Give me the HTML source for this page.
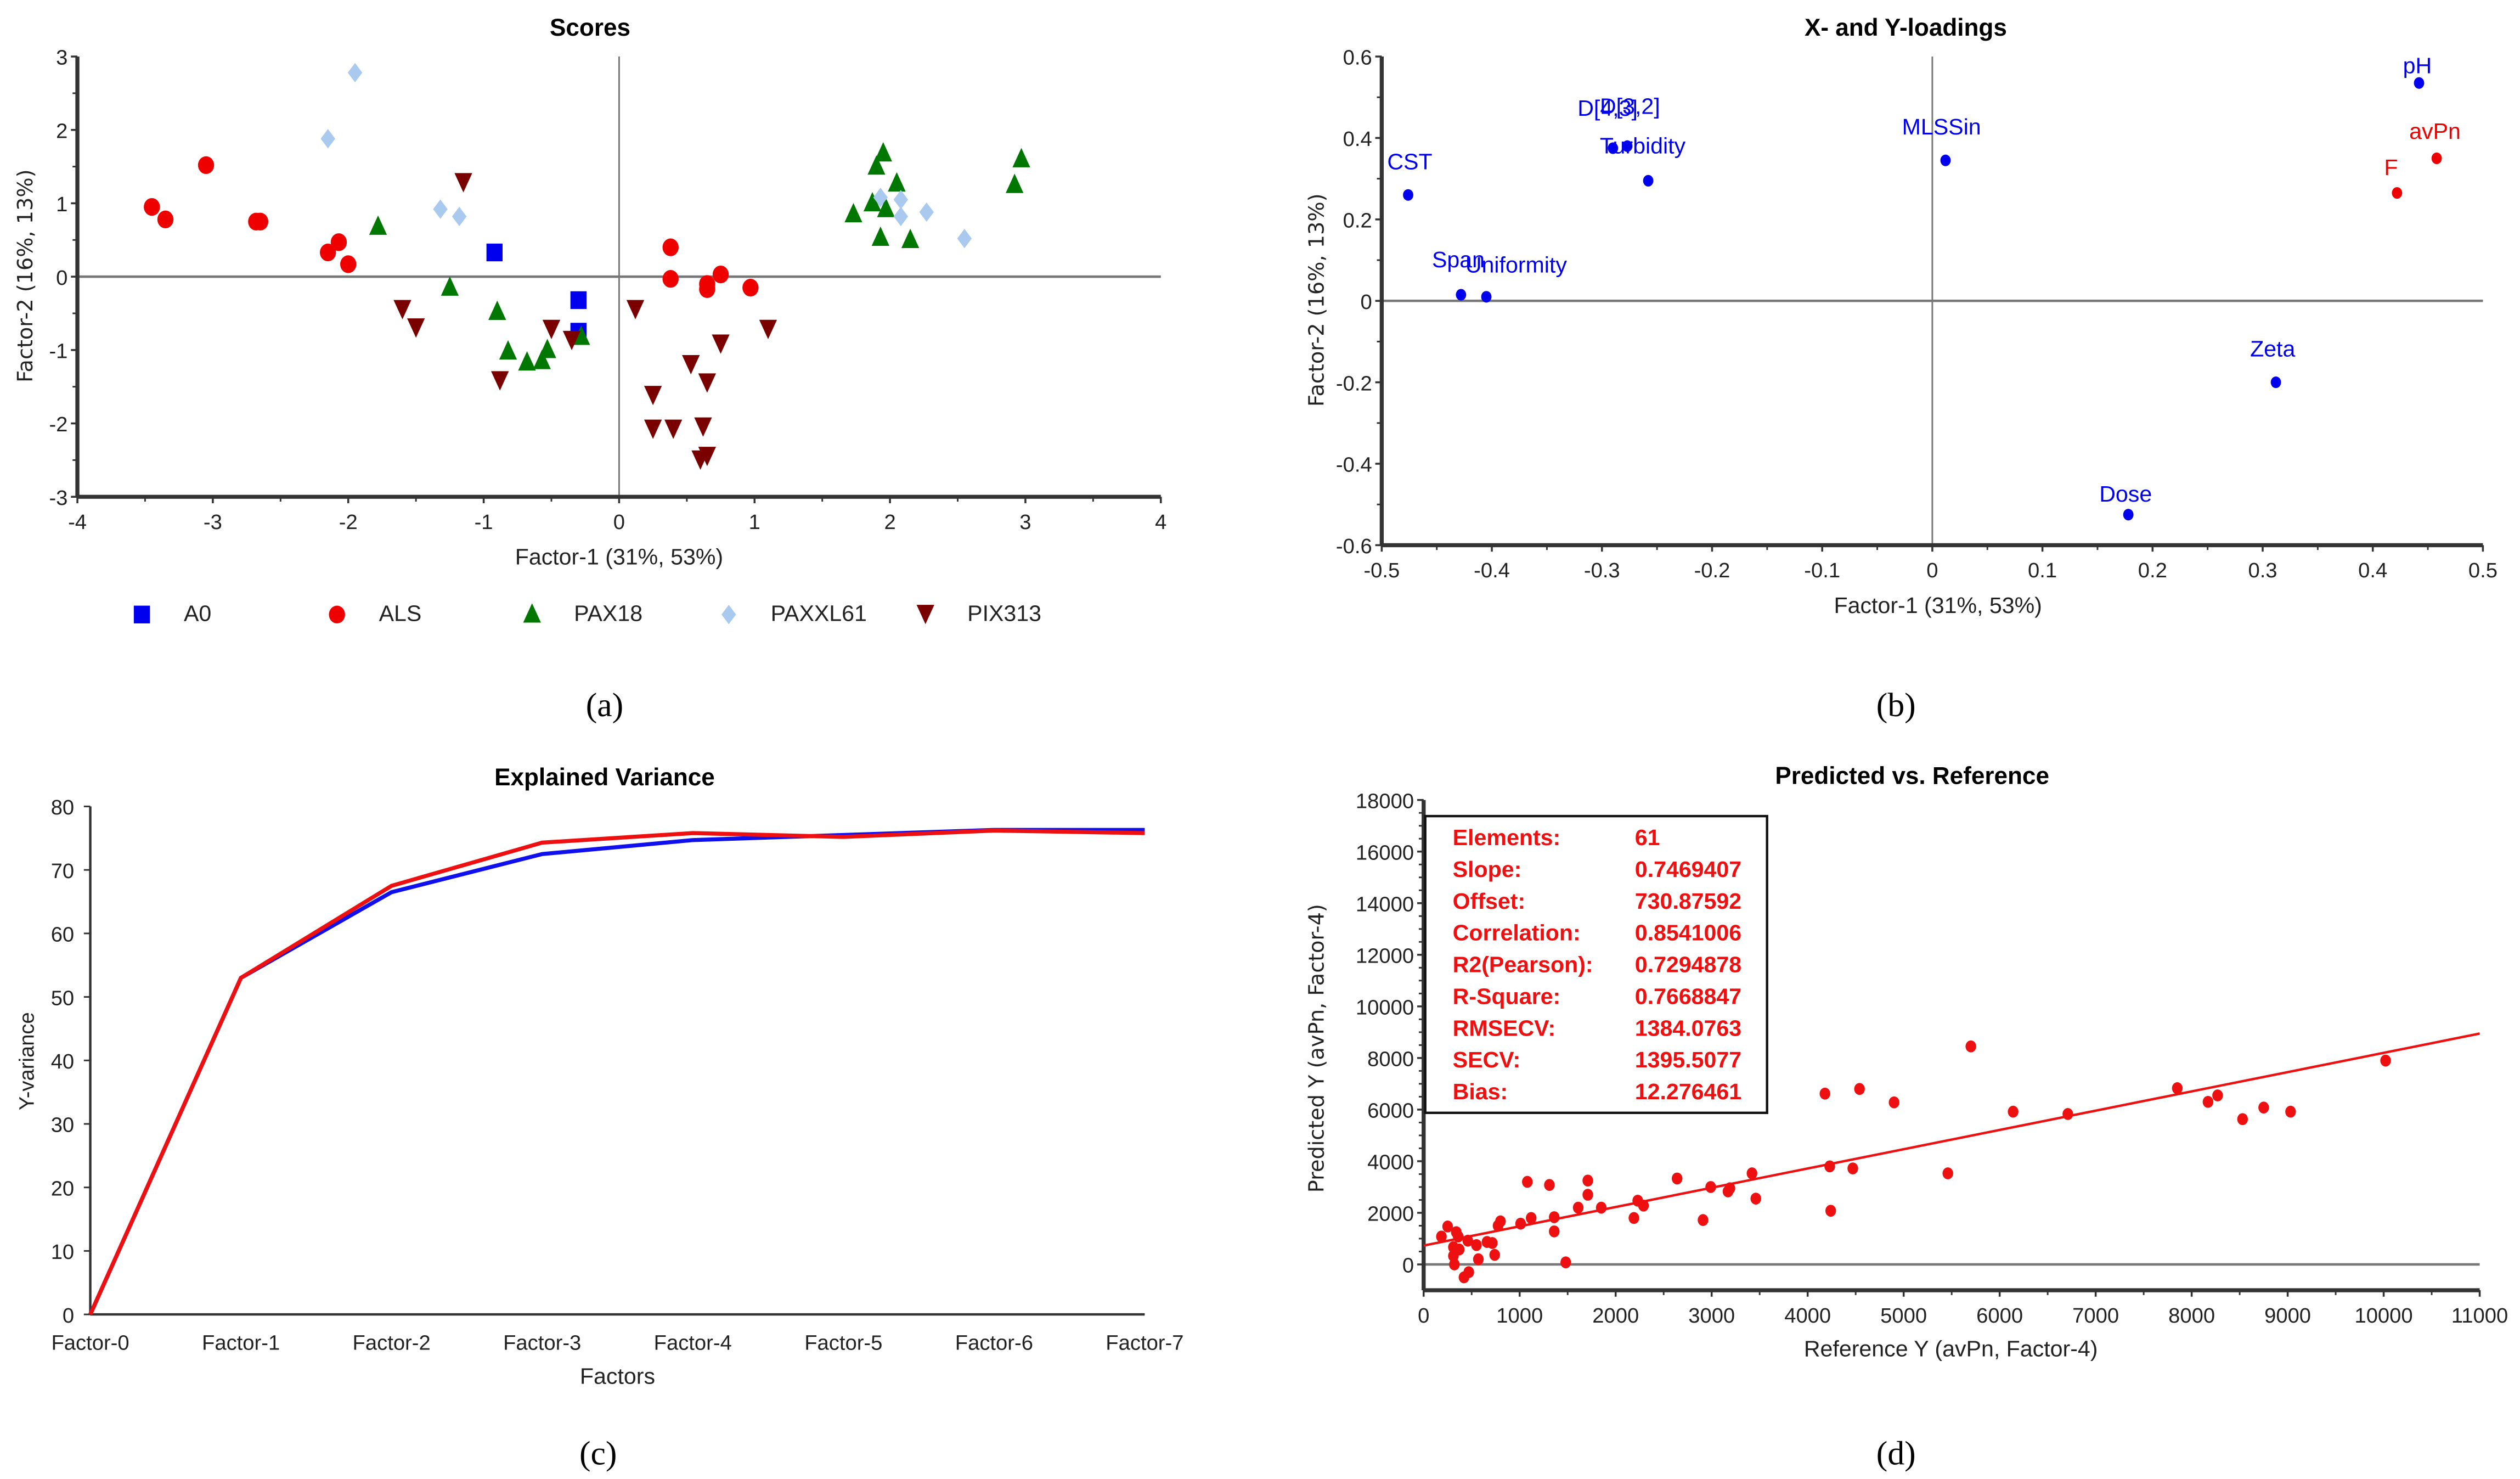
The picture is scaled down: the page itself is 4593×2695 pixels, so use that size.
<!DOCTYPE html>
<html><head><meta charset="utf-8"><style>
html,body{margin:0;padding:0;background:#fff;}
svg{display:block;font-family:"Liberation Sans",Arial,sans-serif;}
</style></head><body>
<svg id="fig" width="4593" height="2695" viewBox="0 0 1563 917" xmlns="http://www.w3.org/2000/svg">
<rect width="1563" height="917" fill="#fff"/>
<g id="root"></g>
</svg>
<script>
// ---------- Panel (a) data ----------
const a0X=[-0.92,-0.3,-0.3];
const a0Y=[0.33,-0.32,-0.75];
const alsX=[-3.45,-3.35,-3.05,-2.68,-2.65,-2.15,-2.07,-2.0,0.38,0.38,0.65,0.65,0.75,0.97];
const alsY=[0.95,0.78,1.52,0.75,0.75,0.33,0.47,0.17,0.4,-0.03,-0.1,-0.17,0.03,-0.15];
const pax18X=[-1.78,-1.25,-0.9,-0.82,-0.68,-0.57,-0.53,-0.28,1.73,1.87,1.9,1.95,1.97,2.05,1.93,2.15,2.92,2.97];
const pax18Y=[0.68,-0.15,-0.48,-1.02,-1.17,-1.15,-1.0,-0.82,0.85,1.0,1.5,1.68,0.92,1.27,0.53,0.5,1.25,1.6];
const paxxlX=[-1.95,-2.15,-1.32,-1.18,1.93,2.08,2.08,2.27,2.55];
const paxxlY=[2.78,1.88,0.92,0.82,1.08,1.05,0.82,0.88,0.52];
const pixX=[-1.15,-1.6,-1.5,-0.88,-0.5,-0.35,0.12,0.25,0.25,0.4,0.53,0.62,0.65,0.75,1.1,0.6,0.65];
const pixY=[1.28,-0.45,-0.7,-1.42,-0.72,-0.87,-0.45,-1.62,-2.08,-2.08,-1.2,-2.05,-1.45,-0.92,-0.72,-2.5,-2.45];
const aXTicks=[-4,-3,-2,-1,0,1,2,3,4];
const aYTicks=[-3,-2,-1,0,1,2,3];
// ---------- Panel (b) data ----------
const bNames=["CST","Span","Uniformity","D[4,3]","D[3,2]","Turbidity","MLSSin","pH","Zeta","Dose","F","avPn"];
const bX=[-0.476,-0.428,-0.405,-0.29,-0.277,-0.258,0.012,0.442,0.312,0.178,0.422,0.458];
const bY=[0.26,0.015,0.01,0.375,0.38,0.295,0.345,0.535,-0.2,-0.525,0.265,0.35];
const bIsY=[0,0,0,0,0,0,0,0,0,0,1,1];
const bXTicks=[-0.5,-0.4,-0.3,-0.2,-0.1,0,0.1,0.2,0.3,0.4,0.5];
const bYTicks=[-0.6,-0.4,-0.2,0,0.2,0.4,0.6];
// ---------- Panel (c) data ----------
const cCats=["Factor-0","Factor-1","Factor-2","Factor-3","Factor-4","Factor-5","Factor-6","Factor-7"];
const cBlue=[0,53,66.5,72.5,74.7,75.5,76.3,76.3];
const cRed=[0,53,67.5,74.3,75.8,75.2,76.2,75.8];
const cYTicks=[0,10,20,30,40,50,60,70,80];
// ---------- Panel (d) data ----------
const dRef=[185,250,340,360,310,310,320,370,420,470,460,550,570,660,715,740,800,775,1010,1080,1120,1310,1360,1360,1480,1610,1710,1710,1850,2190,2230,2290,2640,2910,2990,3170,3190,3420,3460,4180,4230,4240,4470,4540,4900,5460,5700,6140,6710,7850,8170,8270,8530,8750,9030,10020];
const dPred=[1080,1470,1250,1080,670,330,0,580,-500,-300,920,750,200,870,830,370,1670,1500,1580,3200,1800,3080,1830,1280,80,2200,3250,2700,2200,1800,2470,2280,3330,1720,3000,2830,2950,3530,2550,6620,3800,2080,3720,6800,6280,3530,8450,5920,5830,6830,6300,6550,5630,6080,5920,7900];
const dSlope=0.7469407, dOffset=730.87592;
const dXTicks=[0,1000,2000,3000,4000,5000,6000,7000,8000,9000,10000,11000];
const dYTicks=[0,2000,4000,6000,8000,10000,12000,14000,16000,18000];
const dStatNames=["Elements:","Slope:","Offset:","Correlation:","R2(Pearson):","R-Square:","RMSECV:","SECV:","Bias:"];
const dStatVals=["61","0.7469407","730.87592","0.8541006","0.7294878","0.7668847","1384.0763","1395.5077","12.276461"];

const NS="http://www.w3.org/2000/svg";
const root=document.getElementById('root');
function mk(tag,attrs,parent){const e=document.createElementNS(NS,tag);for(const k in attrs)e.setAttribute(k,attrs[k]);(parent||root).appendChild(e);return e;}
function txt(s,attrs,parent){const e=mk('text',attrs,parent);e.textContent=s;return e;}
function lin(d0,d1,p0,p1){return v=>p0+(v-d0)/(d1-d0)*(p1-p0);}
const AX="#333", ZL="#777";

function frame(g,x0,x1,y0,y1,xt,yt,sx,sy,xMinor,yMinor,fmtX,fmtY){
  // axes
  let e=mk('line',{x1:x0,y1:y0,x2:x0,y2:y1,stroke:AX,'stroke-width':2.5},g);
  
  e=mk('line',{x1:x0,y1:y1,x2:x1,y2:y1,stroke:AX,'stroke-width':2.5},g);
  
  for(let i=0;i<xt.length;i++){
    const X=sx(xt[i]);
    mk('line',{x1:X,y1:y1,x2:X,y2:y1+4,stroke:AX,'stroke-width':1.2},g);
    e=txt(fmtX?fmtX(xt[i]):String(xt[i]),{x:X,y:y1+20,'font-size':13,'text-anchor':'middle',fill:'#222'},g);
    
    if(i<xt.length-1&&xMinor){for(let k=1;k<xMinor;k++){const m=X+(sx(xt[i+1])-X)*k/xMinor;mk('line',{x1:m,y1:y1,x2:m,y2:y1+3,stroke:AX,'stroke-width':1},g);}}
  }
  for(let i=0;i<yt.length;i++){
    const Y=sy(yt[i]);
    mk('line',{x1:x0-4,y1:Y,x2:x0,y2:Y,stroke:AX,'stroke-width':1.2},g);
    e=txt(fmtY?fmtY(yt[i]):String(yt[i]),{x:x0-6,y:Y+5,'font-size':13,'text-anchor':'end',fill:'#222'},g);
    
    if(i<yt.length-1&&yMinor){for(let k=1;k<yMinor;k++){const m=Y+(sy(yt[i+1])-Y)*k/yMinor;mk('line',{x1:x0-3,y1:m,x2:x0,y2:m,stroke:AX,'stroke-width':1},g);}}
  }
}

// ================= Panel (a) =================
(function(){
  const g=mk('g',{});
  const x0=48,x1=720,y0=35,y1=308;
  const sx=lin(-4,4,x0,x1), sy=lin(-3,3,y1,y0);
  let e=mk('line',{x1:x0,y1:sy(0),x2:x1,y2:sy(0),stroke:ZL,'stroke-width':1.5},g);
  
  e=mk('line',{x1:sx(0),y1:y0,x2:sx(0),y2:y1,stroke:ZL,'stroke-width':1},g);
  
  frame(g,x0,x1,y0,y1,aXTicks,aYTicks,sx,sy,2,2);
  e=txt('Scores',{x:366,y:22,'font-size':15,'font-weight':'bold','text-anchor':'middle'},g);
  
  e=txt('Factor-1 (31%, 53%)',{x:384,y:350,'font-size':14,'text-anchor':'middle',fill:'#222'},g);
  
  e=txt('Factor-2 (16%, 13%)',{x:0,y:0,'font-size':13,'text-anchor':'middle',fill:'#222','font-family':'DejaVu Sans, sans-serif',transform:'translate(20,171) rotate(-90)'},g);
  
  const shapes={
    sq:(x,y,c)=>mk('rect',{x:x-5,y:y-5.5,width:10,height:11,fill:c},g),
    ci:(x,y,c)=>mk('ellipse',{cx:x,cy:y,rx:5,ry:5.5,fill:c},g),
    up:(x,y,c)=>mk('polygon',{points:`${x},${y-7} ${x-5.5},${y+5} ${x+5.5},${y+5}`,fill:c},g),
    di:(x,y,c)=>mk('polygon',{points:`${x},${y-6} ${x-4.5},${y} ${x},${y+6} ${x+4.5},${y}`,fill:c},g),
    dn:(x,y,c)=>mk('polygon',{points:`${x-5.5},${y-6} ${x+5.5},${y-6} ${x},${y+6}`,fill:c},g)
  };
  const series=[
    ['A0',a0X,a0Y,'sq','#0000ee',88],
    ['ALS',alsX,alsY,'ci','#ee0000',209],
    ['PAX18',pax18X,pax18Y,'up','#007700',330],
    ['PAXXL61',paxxlX,paxxlY,'di','#a9c9ef',452],
    ['PIX313',pixX,pixY,'dn','#7a0000',574]
  ];
  for(const s of series){
    for(let i=0;i<s[1].length;i++){
      const p=shapes[s[3]](sx(s[1][i]),sy(s[2][i]),s[4]);
      
      
    }
    const m=shapes[s[3]](s[5],381,s[4]);
    
    
    e=txt(s[0],{x:s[5]+26,y:385,'font-size':14,fill:'#222'},g);
    
  }
})();

// ================= Panel (b) =================
(function(){
  const g=mk('g',{});
  const x0=857,x1=1540,y0=35,y1=338;
  const sx=lin(-0.5,0.5,x0,x1), sy=lin(-0.6,0.6,y1,y0);
  let e=mk('line',{x1:x0,y1:sy(0),x2:x1,y2:sy(0),stroke:ZL,'stroke-width':1.5},g);
  
  e=mk('line',{x1:sx(0),y1:y0,x2:sx(0),y2:y1,stroke:ZL,'stroke-width':1},g);
  
  frame(g,x0,x1,y0,y1,bXTicks,bYTicks,sx,sy,2,2,v=>String(+v.toFixed(1)),v=>String(+v.toFixed(1)));
  e=txt('X- and Y-loadings',{x:1182,y:22,'font-size':15,'font-weight':'bold','text-anchor':'middle'},g);
  
  e=txt('Factor-1 (31%, 53%)',{x:1202,y:380,'font-size':14,'text-anchor':'middle',fill:'#222'},g);
  
  e=txt('Factor-2 (16%, 13%)',{x:0,y:0,'font-size':13,'text-anchor':'middle',fill:'#222','font-family':'DejaVu Sans, sans-serif',transform:'translate(821,186) rotate(-90)'},g);
  
  // label offsets (presentation only)
  const off={CST:[-13,-16,'start'],Span:[-18,-17,'start'],Uniformity:[-13,-15,'start'],'D[4,3]':[-22,-20,'start'],'D[3,2]':[-17,-20,'start'],Turbidity:[-30,-17,'start'],MLSSin:[-27,-16,'start'],pH:[-10,-6,'start'],Zeta:[-16,-16,'start'],Dose:[-18,-8,'start'],F:[-8,-11,'start'],avPn:[-17,-12,'start']};
  for(let i=0;i<bNames.length;i++){
    const c=bIsY[i]?'#ee0000':'#0000ee';
    const X=sx(bX[i]),Y=sy(bY[i]);
    const p=mk('ellipse',{cx:X,cy:Y,rx:3.2,ry:3.6,fill:c},g);
    
    
    const o=off[bNames[i]];
    e=txt(bNames[i],{x:X+o[0],y:Y+o[1],'font-size':14,fill:c},g);
    
  }
})();

// ================= Panel (c) =================
(function(){
  const g=mk('g',{});
  const x0=56,x1=710,y0=500,y1=815;
  const sx=i=>x0+i*(x1-x0)/(cCats.length-1), sy=lin(0,80,y1,y0);
  let e=mk('line',{x1:x0,y1:y0,x2:x0,y2:y1,stroke:AX,'stroke-width':1.5},g);
  
  e=mk('line',{x1:x0,y1:y1,x2:x1,y2:y1,stroke:AX,'stroke-width':1.5},g);
  
  for(let i=0;i<cYTicks.length;i++){
    const Y=sy(cYTicks[i]);
    mk('line',{x1:x0-4,y1:Y,x2:x0,y2:Y,stroke:AX,'stroke-width':1},g);
    e=txt(String(cYTicks[i]),{x:x0-10,y:Y+5,'font-size':13,'text-anchor':'end',fill:'#222'},g);
    
  }
  for(let i=0;i<cCats.length;i++){
    e=txt(cCats[i],{x:sx(i),y:y1+22,'font-size':13,'text-anchor':'middle',fill:'#222'},g);
    
  }
  e=txt('Explained Variance',{x:375,y:487,'font-size':15,'font-weight':'bold','text-anchor':'middle'},g);
  
  e=txt('Factors',{x:383,y:858,'font-size':14,'text-anchor':'middle',fill:'#222'},g);
  
  e=txt('Y-variance',{x:0,y:0,'font-size':13,'text-anchor':'middle',fill:'#222',transform:'translate(21,658) rotate(-90)'},g);
  
  const pb=cBlue.map((v,i)=>sx(i)+','+sy(v)).join(' ');
  e=mk('polyline',{points:pb,fill:'none',stroke:'#1010ee','stroke-width':2.5},g);
  
  const pr=cRed.map((v,i)=>sx(i)+','+sy(v)).join(' ');
  e=mk('polyline',{points:pr,fill:'none',stroke:'#ee1010','stroke-width':2.5},g);
  
})();

// ================= Panel (d) =================
(function(){
  const g=mk('g',{});
  const x0=883,x1=1538,y0=496,y1=800;
  const sx=lin(0,11000,x0,x1), sy=lin(0,18000,784,496);
  let e=mk('line',{x1:x0,y1:sy(0),x2:x1,y2:sy(0),stroke:ZL,'stroke-width':1.5},g);
  
  frame(g,x0,x1,y0,y1,dXTicks,dYTicks,sx,sy,2,4);
  e=txt('Predicted vs. Reference',{x:1186,y:486,'font-size':15,'font-weight':'bold','text-anchor':'middle'},g);
  
  e=txt('Reference Y (avPn, Factor-4)',{x:1210,y:841,'font-size':14,'text-anchor':'middle',fill:'#222'},g);
  
  e=txt('Predicted Y (avPn, Factor-4)',{x:0,y:0,'font-size':13,'text-anchor':'middle',fill:'#222','font-family':'DejaVu Sans, sans-serif',transform:'translate(821,650) rotate(-90)'},g);
  
  e=mk('line',{x1:sx(0),y1:sy(dOffset),x2:sx(11000),y2:sy(dSlope*11000+dOffset),stroke:'#ee1010','stroke-width':1.5},g);
  
  for(let i=0;i<dRef.length;i++){
    const p=mk('ellipse',{cx:sx(dRef[i]),cy:sy(dPred[i]),rx:3.3,ry:3.7,fill:'#ee1010'},g);
    
    
  }
  e=mk('rect',{x:884,y:506,width:212,height:184,fill:'#fff',stroke:'#111','stroke-width':1.5},g);
  
  for(let i=0;i<dStatNames.length;i++){
    const Y=524+i*19.7;
    e=txt(dStatNames[i],{x:901,y:Y,'font-size':14,'font-weight':'bold',fill:'#ee1010'},g);
    
    e=txt(dStatVals[i],{x:1014,y:Y,'font-size':14,'font-weight':'bold',fill:'#ee1010'},g);
    
  }
})();

// ---------- panel captions ----------
const caps=[['(a)',375,444],['(b)',1176,444],['(c)',371,908],['(d)',1176,908]];
for(const c of caps){
  const t=txt(c[0],{x:c[1],y:c[2],'font-size':21,'text-anchor':'middle','font-family':'Liberation Serif, serif',fill:'#000'});
  
  
}
</script>
</body></html>
